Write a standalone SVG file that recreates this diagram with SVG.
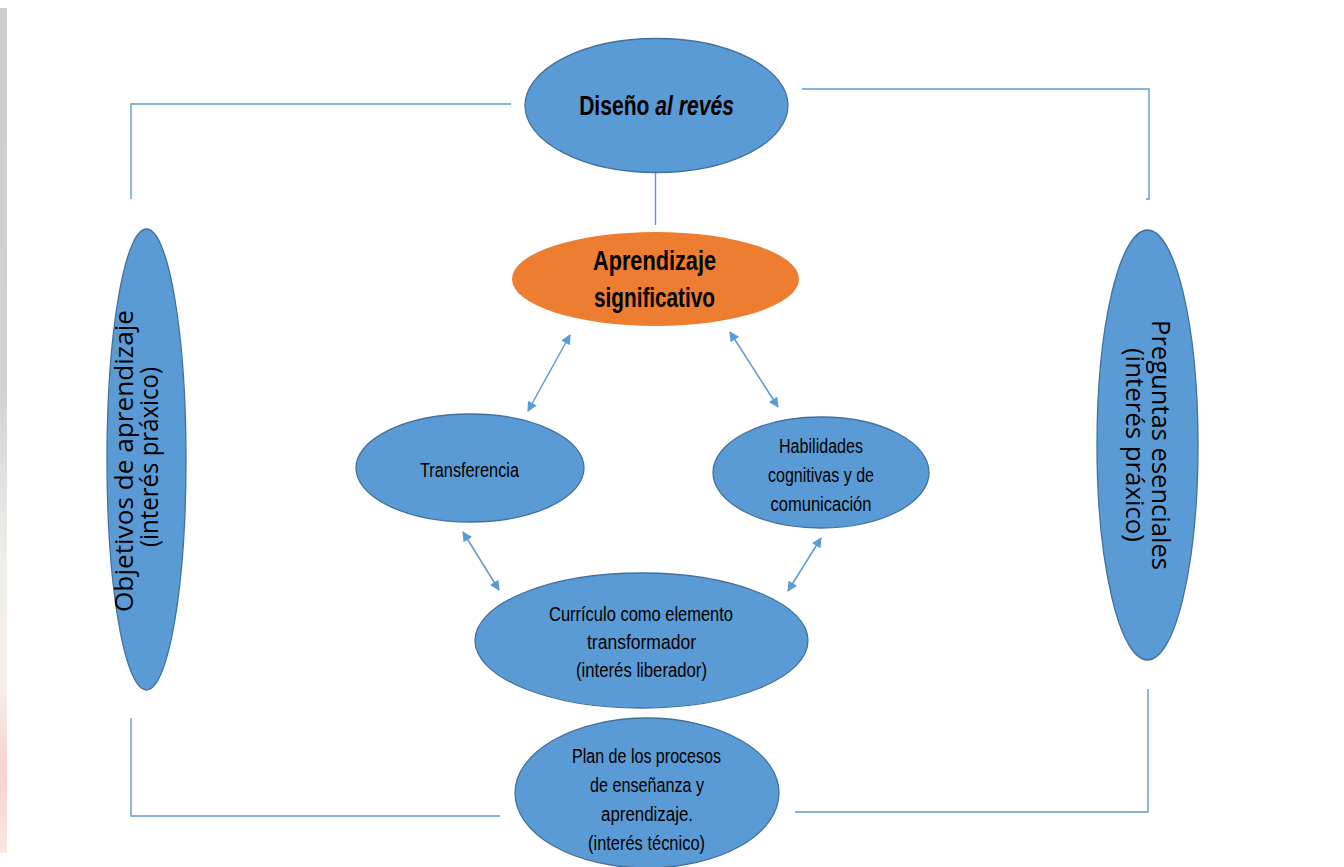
<svg xmlns="http://www.w3.org/2000/svg" width="1344" height="867" viewBox="0 0 1344 867">
<defs>
<linearGradient id="strip" x1="0" y1="0" x2="0" y2="1">
<stop offset="0" stop-color="#cdcdcd"/>
<stop offset="0.45" stop-color="#d2d2d2"/>
<stop offset="0.65" stop-color="#eeeeea"/>
<stop offset="0.8" stop-color="#f6efeb"/>
<stop offset="0.9" stop-color="#f8d2cc"/>
<stop offset="1" stop-color="#fbe6e3"/>
</linearGradient>
<marker id="ah" viewBox="0 0 10 10" refX="9" refY="5" markerWidth="11" markerHeight="10" markerUnits="userSpaceOnUse" orient="auto-start-reverse">
<path d="M0,0 L10,5 L0,10 z" fill="#5B9BD5"/>
</marker>
</defs>
<style>
.node{fill:#5B9BD5;stroke:#41719C;stroke-width:1.3}
.orange{fill:#ED7D31;stroke:none}
.t{font-family:"Liberation Sans",Arial,sans-serif;fill:#000;text-anchor:middle}
.b{font-weight:bold;font-size:28.5px}
.s{font-size:19.5px}
.r{font-family:"Open Sans","DejaVu Sans",sans-serif;font-size:25px;fill:#000;text-anchor:middle}
.ln{fill:none;stroke:#5B9BD5;stroke-width:1.4}
.arr{fill:none;stroke:#5B9BD5;stroke-width:1.5;marker-start:url(#ah);marker-end:url(#ah)}
</style>
<rect x="0" y="8" width="7" height="845" fill="url(#strip)"/>
<g id="connectors">
<polyline class="ln" points="511,104 131,104 131,199"/>
<polyline class="ln" points="802,89 1149,89 1149,199 1146,199"/>
<polyline class="ln" points="131,718 131,816 500,816"/>
<polyline class="ln" points="795,812 1148,812 1148,689"/>
<line class="ln" x1="655.5" y1="173" x2="655.5" y2="225"/>
<line class="arr" x1="570" y1="335" x2="528" y2="411"/>
<line class="arr" x1="730" y1="332" x2="778" y2="407"/>
<line class="arr" x1="463" y1="532" x2="499" y2="590"/>
<line class="arr" x1="821" y1="538" x2="788" y2="591"/>
</g>
<g id="diseno">
<ellipse class="node" cx="656.5" cy="105.5" rx="131.5" ry="67"/>
<text class="t b" transform="translate(656.5,115) scale(0.74,1)" x="0" y="0">Diseño <tspan font-style="italic">al revés</tspan></text>
</g>
<g id="aprendizaje">
<ellipse class="orange" cx="655.5" cy="279" rx="143.5" ry="47"/>
<text class="t b" x="654.5" y="270" textLength="123" lengthAdjust="spacingAndGlyphs">Aprendizaje</text>
<text class="t b" x="654.5" y="307" textLength="121" lengthAdjust="spacingAndGlyphs">significativo</text>
</g>
<g id="transferencia">
<ellipse class="node" cx="470" cy="468" rx="114" ry="54"/>
<text class="t s" x="469.5" y="477" textLength="99" lengthAdjust="spacingAndGlyphs">Transferencia</text>
</g>
<g id="habilidades">
<ellipse class="node" cx="821" cy="472.5" rx="108" ry="55.5"/>
<text class="t s" x="821" y="453" textLength="84" lengthAdjust="spacingAndGlyphs">Habilidades</text>
<text class="t s" x="821" y="482" textLength="106" lengthAdjust="spacingAndGlyphs">cognitivas y de</text>
<text class="t s" x="821" y="511" textLength="101" lengthAdjust="spacingAndGlyphs">comunicación</text>
</g>
<g id="curriculo">
<ellipse class="node" cx="641.5" cy="640.5" rx="166.5" ry="67.5"/>
<text class="t s" x="641" y="621" textLength="184" lengthAdjust="spacingAndGlyphs">Currículo como elemento</text>
<text class="t s" x="641.5" y="649" textLength="109" lengthAdjust="spacingAndGlyphs">transformador</text>
<text class="t s" x="641.5" y="677" textLength="131" lengthAdjust="spacingAndGlyphs">(interés liberador)</text>
</g>
<g id="plan">
<ellipse class="node" cx="647" cy="793" rx="132" ry="75"/>
<text class="t s" x="646.5" y="763" textLength="149" lengthAdjust="spacingAndGlyphs">Plan de los procesos</text>
<text class="t s" x="647" y="792" textLength="114" lengthAdjust="spacingAndGlyphs">de enseñanza y</text>
<text class="t s" x="647" y="821" textLength="92" lengthAdjust="spacingAndGlyphs">aprendizaje.</text>
<text class="t s" x="646.5" y="850" textLength="117" lengthAdjust="spacingAndGlyphs">(interés técnico)</text>
</g>
<g id="objetivos">
<ellipse class="node" cx="146.5" cy="459.5" rx="39.5" ry="230.5"/>
<text class="r" transform="translate(133,461) rotate(-90)" textLength="302" lengthAdjust="spacingAndGlyphs">Objetivos de aprendizaje</text>
<text class="r" transform="translate(158,457) rotate(-90)" textLength="180" lengthAdjust="spacingAndGlyphs">(interés práxico)</text>
</g>
<g id="preguntas">
<ellipse class="node" cx="1147.5" cy="445" rx="50.5" ry="215"/>
<text class="r" transform="translate(1152,445) rotate(90)" textLength="250" lengthAdjust="spacingAndGlyphs">Preguntas esenciales</text>
<text class="r" transform="translate(1126,445) rotate(90)" textLength="194" lengthAdjust="spacingAndGlyphs">(interés práxico)</text>
</g>
</svg>
